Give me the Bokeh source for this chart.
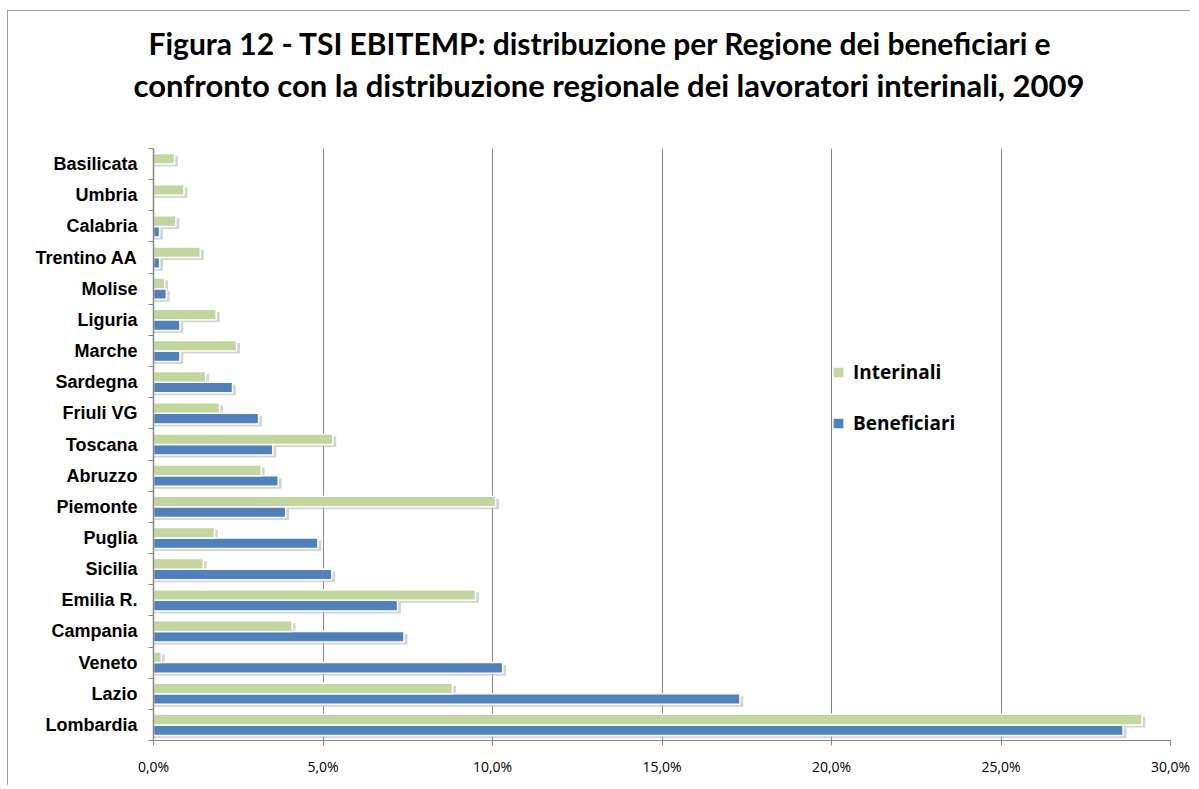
from bokeh.plotting import figure
from bokeh.models import Range1d, FixedTicker, Legend, LegendItem, Title, ColumnDataSource
from bokeh.embed import file_html
from bokeh.resources import INLINE

# ---- data (top-to-bottom as shown in the chart) ----
regions = ["Basilicata", "Umbria", "Calabria", "Trentino AA", "Molise", "Liguria",
           "Marche", "Sardegna", "Friuli VG", "Toscana", "Abruzzo", "Piemonte",
           "Puglia", "Sicilia", "Emilia R.", "Campania", "Veneto", "Lazio", "Lombardia"]
interinali = [0.62, 0.90, 0.66, 1.38, 0.33, 1.85, 2.45, 1.54, 1.95, 5.29, 3.18, 10.09,
              1.80, 1.47, 9.50, 4.09, 0.23, 8.82, 29.16]
beneficiari = [0.0, 0.0, 0.18, 0.18, 0.38, 0.78, 0.78, 2.33, 3.10, 3.52, 3.68, 3.90,
               4.85, 5.26, 7.20, 7.39, 10.30, 17.30, 28.60]
x_ticks = [0, 5, 10, 15, 20, 25, 30]
x_tick_labels = ["0,0%", "5,0%", "10,0%", "15,0%", "20,0%", "25,0%", "30,0%"]

title_line1 = "Figura 12 - TSI EBITEMP: distribuzione per Regione dei beneficiari e"
title_line2 = "confronto con la distribuzione regionale dei lavoratori interinali, 2009"

GREEN = "#C3D69B"
BLUE = "#4F81BD"
GRID = "#868686"

n = len(regions)
centers = [n - 1 - i + 0.5 for i in range(n)]
bar_h = 0.34
y_green = [c + bar_h / 2 for c in centers]
y_blue = [c - bar_h / 2 for c in centers]

src = ColumnDataSource(dict(
    region=regions, interinali=interinali, beneficiari=beneficiari,
    yg=y_green, yb=y_blue,
    yg_sh=[y - 0.08 for y in y_green], yb_sh=[y - 0.08 for y in y_blue],
    ig_sh=[v + 0.1 if v > 0 else 0 for v in interinali],
    bb_sh=[v + 0.1 if v > 0 else 0 for v in beneficiari],
))

p = figure(width=1183, height=775, output_backend="svg", toolbar_location=None,
           x_range=Range1d(0, 30), y_range=Range1d(0, n),
           min_border_left=145, min_border_right=21, min_border_bottom=46,
           min_border_top=137)
p.title.visible = False
p.outline_line_color = None
p.background_fill_color = "white"
p.border_fill_color = "white"
p.styles = {"border-top": "1px solid #a0a0a0", "border-left": "1px solid #a0a0a0",
            "margin-top": "10px", "margin-left": "7px"}

# shadows
p.hbar(y="yg_sh", left=0, right="ig_sh", height=bar_h, source=src,
       fill_color="#b5b5b5", fill_alpha=0.6, line_color=None)
p.hbar(y="yb_sh", left=0, right="bb_sh", height=bar_h, source=src,
       fill_color="#b5b5b5", fill_alpha=0.6, line_color=None)
# bars
rb = p.hbar(y="yb", left=0, right="beneficiari", height=bar_h, source=src,
            fill_color=BLUE, line_color="white", line_width=1.5)
rg = p.hbar(y="yg", left=0, right="interinali", height=bar_h, source=src,
            fill_color=GREEN, line_color="white", line_width=1.5)

# x axis
p.xaxis.ticker = FixedTicker(ticks=x_ticks)
p.xaxis.major_label_overrides = {t: l for t, l in zip(x_ticks, x_tick_labels)}
p.xaxis.major_label_text_font = "Open Sans"
p.xaxis.major_label_text_font_size = "14px"
p.xaxis.major_label_text_color = "black"
p.xaxis.axis_line_color = GRID
p.xaxis.major_tick_line_color = GRID
p.xaxis.major_tick_out = 5
p.xaxis.major_tick_in = 0
p.xaxis.minor_tick_line_color = None
p.xaxis.major_label_standoff = 11

# y axis
p.yaxis.ticker = FixedTicker(ticks=centers, minor_ticks=list(range(n + 1)))
p.yaxis.major_label_overrides = {c: r for c, r in zip(centers, regions)}
p.yaxis.major_label_text_font = "Liberation Sans"
p.yaxis.major_label_text_font_style = "bold"
p.yaxis.major_label_text_font_size = "18px"
p.yaxis.major_label_text_color = "black"
p.yaxis.axis_line_color = GRID
p.yaxis.axis_line_width = 1.5
p.yaxis.major_tick_line_color = None
p.yaxis.minor_tick_line_color = GRID
p.yaxis.minor_tick_out = 5
p.yaxis.minor_tick_in = 0
p.yaxis.major_label_standoff = 10

# grid
p.xgrid.ticker = FixedTicker(ticks=x_ticks)
p.xgrid.grid_line_color = GRID
p.xgrid.grid_line_width = 1
p.ygrid.grid_line_color = None

# titles: spacer nearest the plot, then line 2, then line 1
spacer = Title(text=" ", text_font_size="10px", standoff=30)
t2 = Title(text=title_line2, align="left", offset=-20, text_font="Lato",
           text_font_style="bold", text_font_size="31px", text_color="black", standoff=4)
t1 = Title(text=title_line1, align="left", offset=-5, text_font="Lato",
           text_font_style="bold", text_font_size="30px", text_color="black", standoff=1)
p.add_layout(spacer, "above")
p.add_layout(t2, "above")
p.add_layout(t1, "above")

legend = Legend(items=[LegendItem(label="Interinali", renderers=[rg]),
                       LegendItem(label="Beneficiari", renderers=[rb])],
                location=(678, 304), padding=0, margin=0, spacing=25,
                glyph_width=14, glyph_height=14, label_height=20,
                label_text_font="Open Sans", label_text_font_style="bold",
                label_text_font_size="19px", label_text_color="black",
                background_fill_alpha=0, border_line_color=None, label_standoff=8)
p.add_layout(legend, "center")

open("out.html", "w").write(file_html(p, INLINE))
